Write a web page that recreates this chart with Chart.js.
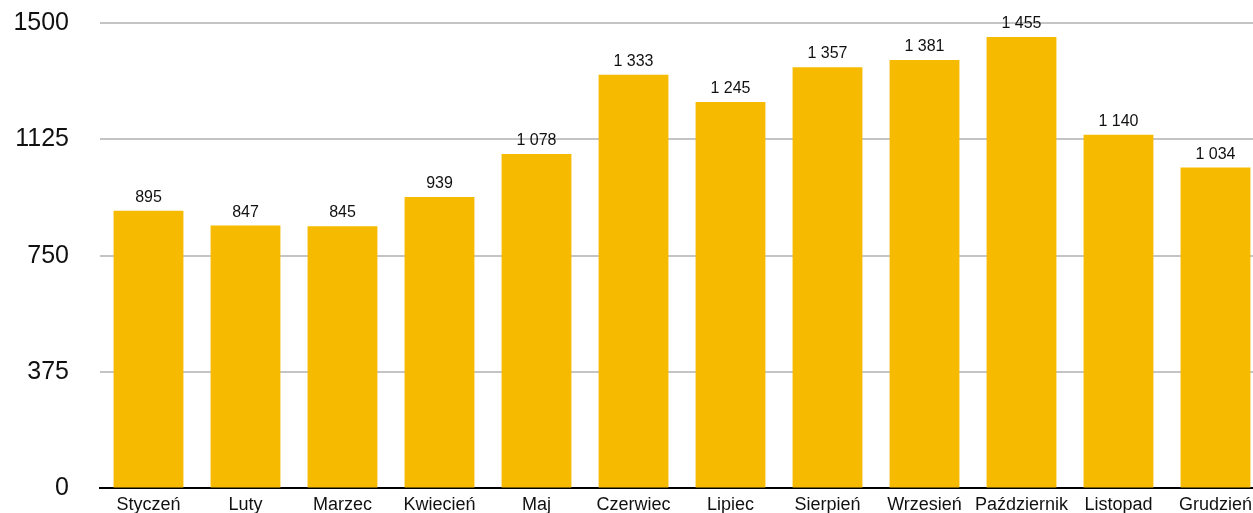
<!DOCTYPE html>
<html lang="pl">
    <head>
        <meta charset="UTF-8" />
        <title>Wykres</title>
        <script src="https://cdn.jsdelivr.net/npm/chart.js@4.4.1/dist/chart.umd.min.js"></script>
        <style>
            html, body { margin: 0; padding: 0; overflow: hidden; background: #fff; }
        </style>
    </head>
    <body>
        <canvas id="myChart" width="1264" height="522"></canvas>
    </body>
    <script>
        const months = ["Styczeń", "Luty", "Marzec", "Kwiecień", "Maj", "Czerwiec", "Lipiec", "Sierpień", "Wrzesień", "Październik", "Listopad", "Grudzień"];
        const values = [895, 847, 845, 939, 1078, 1333, 1245, 1357, 1381, 1455, 1140, 1034];
        const yTicks = [0, 375, 750, 1125, 1500];

        const fontFam = 'Helvetica, "Liberation Sans", Arial, sans-serif';

        // spacja jako separator tysięcy
        const fmt = (v) => String(v).replace(/\B(?=(\d{3})+(?!\d))/g, " ");

        const valueLabels = {
            id: "valueLabels",
            afterDatasetsDraw(chart) {
                const ctx = chart.ctx;
                const meta = chart.getDatasetMeta(0);
                ctx.save();
                ctx.font = "16px " + fontFam;
                ctx.fillStyle = "#111";
                ctx.textAlign = "center";
                ctx.textBaseline = "alphabetic";
                meta.data.forEach((bar, i) => {
                    ctx.fillText(fmt(values[i]), bar.x, bar.y - 9);
                });
                ctx.restore();
            },
        };

        const chart = new Chart("myChart", {
            type: "bar",
            data: {
                labels: months,
                datasets: [
                    {
                        data: values,
                        backgroundColor: "#F6BB00",
                        barPercentage: 0.72,
                        categoryPercentage: 1,
                    },
                ],
            },
            options: {
                responsive: false,
                animation: false,
                layout: { padding: 0 },
                plugins: {
                    legend: { display: false },
                    tooltip: { enabled: false },
                },
                scales: {
                    x: {
                        grid: { display: false, drawTicks: false },
                        border: { color: "#000", width: 2 },
                        ticks: {
                            color: "#111",
                            font: { size: 18, family: fontFam },
                            padding: 6,
                            maxRotation: 0,
                            autoSkip: false,
                        },
                    },
                    y: {
                        min: 0,
                        max: 1500,
                        afterBuildTicks: (axis) => {
                            axis.ticks = yTicks.map((v) => ({ value: v }));
                        },
                        afterFit: (axis) => {
                            axis.width = 100;
                            axis.paddingTop = 23;
                            axis.paddingBottom = 0;
                        },
                        border: { display: false },
                        grid: { color: "#C4C4C4", lineWidth: 2, drawTicks: false },
                        ticks: {
                            color: "#111",
                            font: { size: 25, family: fontFam },
                            padding: 31,
                            callback: (v) => String(v),
                        },
                    },
                },
            },
            plugins: [valueLabels],
        });
    </script>
</html>
